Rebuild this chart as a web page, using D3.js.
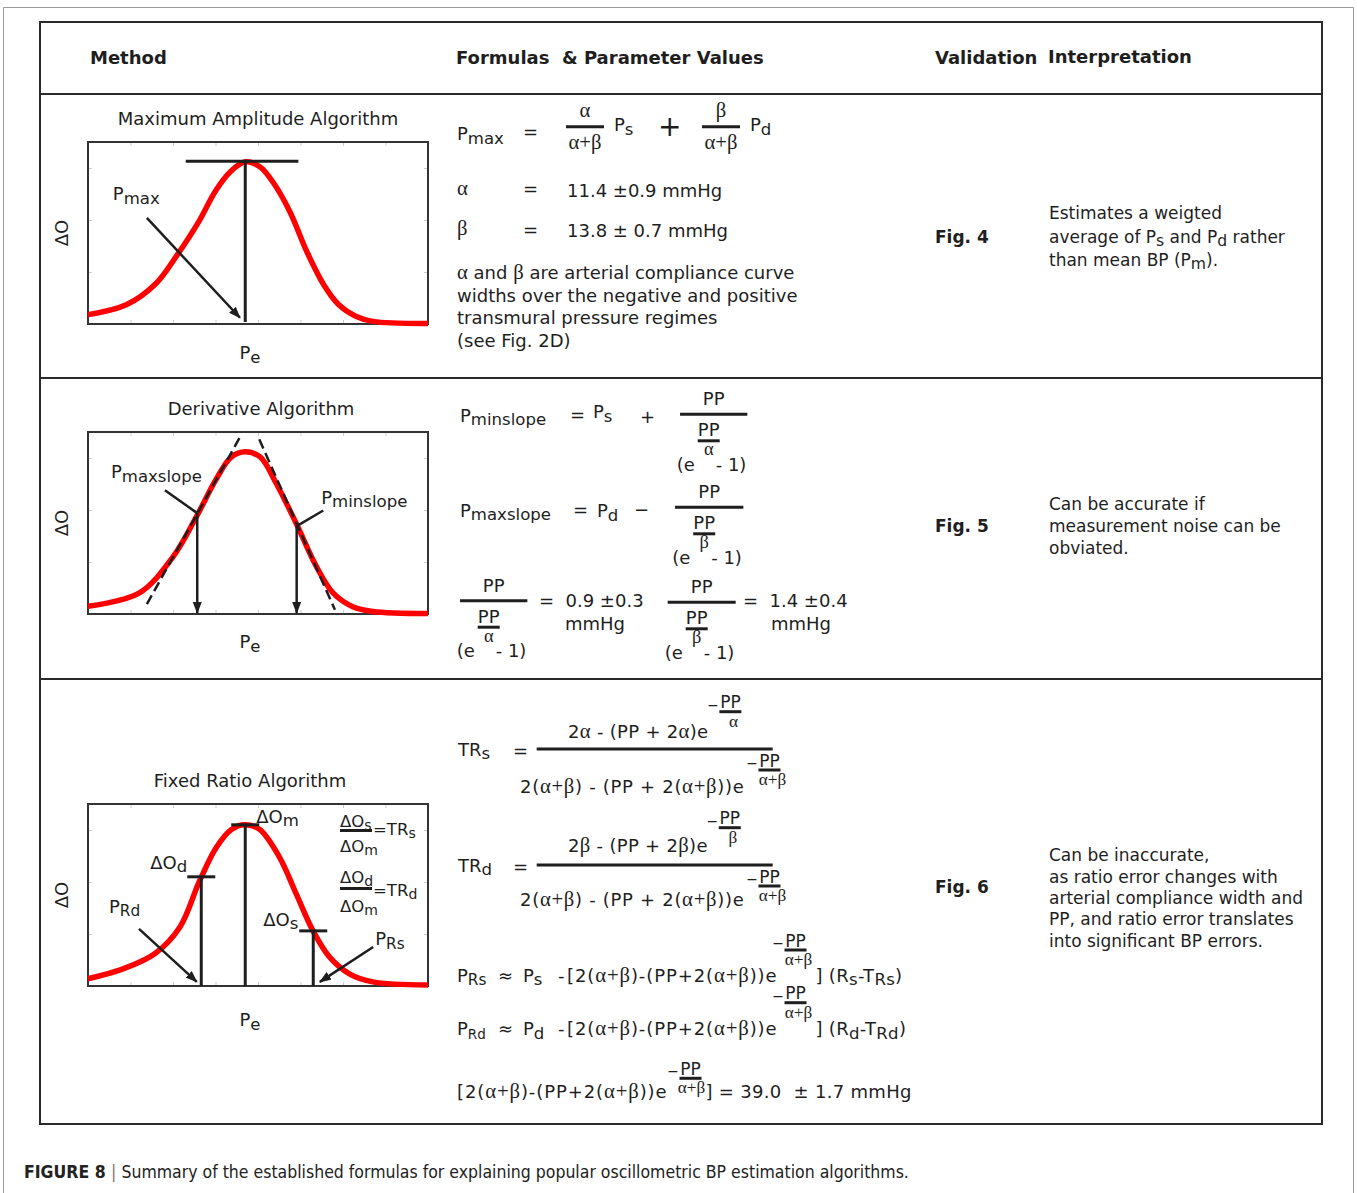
<!DOCTYPE html>
<html>
<head>
<meta charset="utf-8">
<script src="https://cdn.jsdelivr.net/npm/d3@7"></script>
<style>
  body { margin: 0; background: #fff; }
  svg { display: block; }
  text { white-space: pre; }
</style>
</head>
<body>
<svg id="fig" width="1357" height="1193"></svg>
<script>
// ---- Oscillogram data (cuff pressure Pe vs. oscillation amplitude ΔO) ----
const peTicks = [20, 40, 60, 80, 100, 120, 140];
const oscTicks = [1, 2, 3];

// Maximum amplitude panel
const peMaxAmp  = [0, 18, 32, 42, 52, 60, 67, 74, 81, 87, 95, 103, 111, 118, 126, 134, 160];
const oscMaxAmp = [0.18, 0.37, 0.78, 1.33, 1.96, 2.56, 2.93, 3.12, 3.02, 2.73, 2.16, 1.39, 0.75, 0.37, 0.15, 0.05, 0.01];
const pMaxPe = 74, pMaxOsc = 3.13;
const pMaxLevelSpan = [46, 99];
const pMaxArrow = [[27.7, 2.04], [71.5, 0.12]];

// Derivative panel
const peDeriv  = [0, 24, 40, 51, 60, 67.5, 74, 81, 88.6, 98, 107.5, 115.4, 124.6, 134, 160];
const oscDeriv = [0.15, 0.40, 1.10, 1.87, 2.57, 3.02, 3.12, 3.02, 2.51, 1.74, 0.91, 0.40, 0.14, 0.05, 0.01];
const slopePe  = [51.4, 98.2];
const slopeOsc = [1.94, 1.70];
const tangentLines = [[[27.7, 0.19], [71.5, 3.40]], [[80.6, 3.36], [116.2, 0.08]]];
const slopeLeaders = [[[36.2, 2.38], [51.4, 1.94]], [[110.7, 1.99], [99.0, 1.71]]];

// Fixed ratio panel
const peRatio  = [0, 16.5, 31.4, 43.2, 52.5, 60.3, 67.5, 73.8, 80.8, 90.2, 98, 105.9, 113.8, 123.2, 134, 160];
const oscRatio = [0.14, 0.33, 0.62, 1.13, 2.02, 2.66, 3.01, 3.10, 3.01, 2.47, 1.77, 1.06, 0.55, 0.23, 0.08, 0.02];
const ratioKeys = ["d", "m", "s"];
const ratioPe   = [53.3, 74.0, 106.0];
const ratioOsc  = [2.10, 3.10, 1.06];
const ratioArrows = [[[24.0, 1.10], [51.2, 0.08]], [[134.2, 0.75], [109.1, 0.08]]];

// ---- Table text ----
const headers = ["Method", "Formulas  & Parameter Values", "Validation", "Interpretation"];
const validation = ["Fig. 4", "Fig. 5", "Fig. 6"];
const interpretation = [
  ["Estimates a weigted", "average of P_{s} and P_{d} rather", "than mean BP (P_{m})."],
  ["Can be accurate if", "measurement noise can be", "obviated."],
  ["Can be inaccurate,", "as ratio error changes with", "arterial compliance width and",
   "PP, and ratio error translates", "into significant BP errors."]
];
const panelTitles = ["Maximum Amplitude Algorithm", "Derivative Algorithm", "Fixed Ratio Algorithm"];

const INK = "#1e1e1e";
const SANS = "'DejaVu Sans', Verdana, sans-serif";
const SERIF = "'Liberation Serif', 'Times New Roman', serif";

const svg = d3.select("#fig");
svg.append("rect").attr("width", 1357).attr("height", 1193).attr("fill", "#fff");

const defs = svg.append("defs");
defs.append("marker").attr("id", "head")
  .attr("viewBox", "0 -5 12 10").attr("refX", 11).attr("refY", 0)
  .attr("markerUnits", "userSpaceOnUse").attr("markerWidth", 12).attr("markerHeight", 10)
  .attr("orient", "auto")
  .append("path").attr("d", "M0,-4.5L12,0L0,4.5Z").attr("fill", INK);

// text with _{sub} markup; Greek runs set in a serif face
function rich(parent, x, y, str, o = {}) {
  const size = o.size || 18;
  const t = parent.append("text").attr("x", x).attr("y", y)
    .attr("font-family", SANS).attr("font-size", size).attr("fill", INK)
    .attr("text-anchor", o.anchor || "start")
    .attr("font-weight", o.weight || "normal");
  if (o.ls) t.attr("letter-spacing", o.ls);
  const subScale = o.subScale || 0.92, subDy = o.subDy ?? 0.2;
  let shift = 0;
  str.split(/(_\{[^}]*\})/).forEach(seg => {
    if (!seg) return;
    const isSub = seg.startsWith("_{");
    const body = isSub ? seg.slice(2, -1) : seg;
    const target = isSub ? size * subDy : 0;
    const fs = isSub ? size * subScale : size;
    body.split(/([αβ](?:\+[αβ])*)/).forEach(run => {
      if (!run) return;
      const greek = /^[αβ]/.test(run);
      const ts = t.append("tspan").text(run)
        .attr("font-size", greek ? fs * (o.greekScale || 1.15) : fs)
        .attr("font-family", greek ? SERIF : SANS);
      if (target !== shift) { ts.attr("dy", target - shift); shift = target; }
    });
  });
  return t;
}
function seg(parent, x1, y1, x2, y2, o = {}) {
  const l = parent.append("line").attr("x1", x1).attr("y1", y1).attr("x2", x2).attr("y2", y2)
    .attr("stroke", o.color || INK).attr("stroke-width", o.w || 2.5);
  if (o.dash) l.attr("stroke-dasharray", o.dash);
  if (o.arrow) l.attr("marker-end", "url(#head)");
  return l;
}
const endOf = t => t.node().getBBox().x + t.node().getBBox().width;

// ---- frames ----
svg.append("path").attr("d", "M3.5,1200V7.5H1353.5V1200")
  .attr("fill", "none").attr("stroke", "#9a9a9a").attr("stroke-width", 1);
svg.append("rect").attr("x", 40).attr("y", 22).attr("width", 1282).attr("height", 1102)
  .attr("fill", "none").attr("stroke", "#2a2a2a").attr("stroke-width", 2);
[94, 378, 679].forEach(yy => seg(svg, 40, yy, 1322, yy, { w: 2, color: "#2a2a2a" }));

// ---- header ----
const hx = [90, 456, 935, 1048], hy = [64, 64, 64, 63];
headers.forEach((h, i) => rich(svg, hx[i], hy[i], h, { size: 18, weight: "bold" }));

// ---- panels ----
function panel(top, pe, osc, title, titleX, titleY, peY) {
  const g = svg.append("g");
  const x = d3.scaleLinear().domain([0, 160]).range([88, 428]);
  const y = d3.scaleLinear().domain([0, 3.5]).range([top + 182, top]);
  const faint = s => {
    s.select(".domain").remove();
    s.selectAll("text").remove();
    s.selectAll("line").attr("stroke", "#cdcdcd").attr("stroke-width", 1);
  };
  g.append("g").attr("transform", `translate(0,${top + 182})`).call(d3.axisBottom(x).tickValues(peTicks).tickSize(-4)).call(faint);
  g.append("g").attr("transform", `translate(0,${top})`).call(d3.axisTop(x).tickValues(peTicks).tickSize(-4)).call(faint);
  g.append("g").attr("transform", "translate(88,0)").call(d3.axisLeft(y).tickValues(oscTicks).tickSize(-4)).call(faint);
  g.append("g").attr("transform", "translate(428,0)").call(d3.axisRight(y).tickValues(oscTicks).tickSize(-4)).call(faint);
  g.append("rect").attr("x", 88).attr("y", top).attr("width", 340).attr("height", 182)
    .attr("fill", "none").attr("stroke", "#333").attr("stroke-width", 2);
  g.append("path").datum(d3.zip(pe, osc))
    .attr("d", d3.line().x(d => x(d[0])).y(d => y(d[1])).curve(d3.curveCatmullRom.alpha(0.5)))
    .attr("fill", "none").attr("stroke", "#ff0000").attr("stroke-width", 5.5);
  rich(g, titleX, titleY, title, { anchor: "middle" });
  rich(g, 0, 0, "ΔO", { anchor: "middle" }).attr("transform", `translate(68,${top + 91}) rotate(-90)`);
  rich(g, 250, peY, "P_{e}", { anchor: "middle" });
  return { g, x, y };
}

// Maximum amplitude
{
  const { g, x, y } = panel(142, peMaxAmp, oscMaxAmp, panelTitles[0], 258, 125, 359);
  seg(g, x(pMaxLevelSpan[0]), y(pMaxOsc), x(pMaxLevelSpan[1]), y(pMaxOsc), { w: 3 });
  seg(g, x(pMaxPe), y(pMaxOsc), x(pMaxPe), y(0) - 2, { w: 3 });
  const [a, b] = pMaxArrow;
  seg(g, x(a[0]), y(a[1]), x(b[0]), y(b[1]), { w: 2.5, arrow: true });
  rich(g, x(a[0]) - 34, y(a[1]) - 18, "P_{max}");
}

// Derivative
{
  const { g, x, y } = panel(432, peDeriv, oscDeriv, panelTitles[1], 261, 415, 648);
  tangentLines.forEach(([a, b]) => seg(g, x(a[0]), y(a[1]), x(b[0]), y(b[1]), { w: 2.5, dash: "10,5" }));
  slopePe.forEach((p, i) => seg(g, x(p), y(slopeOsc[i]), x(p), y(0) - 1, { w: 2.5, arrow: true }));
  slopeLeaders.forEach(([a, b]) => seg(g, x(a[0]), y(a[1]), x(b[0]), y(b[1]), { w: 2.5 }));
  rich(g, x(slopeLeaders[0][0][0]) - 54, y(slopeLeaders[0][0][1]) - 12, "P_{maxslope}");
  rich(g, x(slopeLeaders[1][0][0]) - 2, y(slopeLeaders[1][0][1]) - 7, "P_{minslope}");
}

// Fixed ratio
{
  const { g, x, y } = panel(804, peRatio, oscRatio, panelTitles[2], 250, 787, 1026);
  ratioPe.forEach((p, i) => {
    seg(g, x(p), y(ratioOsc[i]), x(p), y(0), { w: 3 });
    seg(g, x(p) - 14, y(ratioOsc[i]), x(p) + 14, y(ratioOsc[i]), { w: 3 });
  });
  const px = k => x(ratioPe[ratioKeys.indexOf(k)]), py = k => y(ratioOsc[ratioKeys.indexOf(k)]);
  rich(g, px("m") + 11, py("m") - 2, "ΔO_{m}");
  rich(g, px("d") - 14, py("d") - 8, "ΔO_{d}", { anchor: "end" });
  rich(g, px("s") - 15, py("s") - 5, "ΔO_{s}", { anchor: "end" });
  ratioArrows.forEach(([a, b]) => seg(g, x(a[0]), y(a[1]), x(b[0]), y(b[1]), { w: 2.5, arrow: true }));
  rich(g, x(ratioArrows[0][0][0]) - 30, y(ratioArrows[0][0][1]) - 16, "P_{Rd}", { subScale: 0.85 });
  rich(g, x(ratioArrows[1][0][0]) + 2, y(ratioArrows[1][0][1]) - 2, "P_{Rs}", { subScale: 0.85 });
  // target ratio legend
  const ls = { size: 16.5, subScale: 0.85 };
  rich(g, 340, 827, "ΔO_{s}", ls);
  seg(g, 340, 830.5, 372, 830.5, { w: 3 });
  rich(g, 373, 835, "=TR_{s}", ls);
  rich(g, 340, 852, "ΔO_{m}", ls);
  rich(g, 340, 883, "ΔO_{d}", ls);
  seg(g, 340, 888.5, 372, 888.5, { w: 3 });
  rich(g, 373, 896, "=TR_{d}", ls);
  rich(g, 340, 912, "ΔO_{m}", ls);
}

// ---- formulas ----
const F = svg.append("g");
function fracBar(x1, x2, yy) { seg(F, x1, yy, x2, yy, { w: 3 }); }
// PP over (e^{PP/g} - 1)
function ppFrac(cx, barY, w, greek) {
  rich(F, cx, barY - 9, "PP", { anchor: "middle" });
  fracBar(cx - w / 2, cx + w / 2, barY);
  rich(F, cx - 5, barY + 22, "PP", { anchor: "middle" });
  fracBar(cx - 16, cx + 6, barY + 26.5);
  rich(F, cx - 5, barY + 41, greek, { anchor: "middle", size: 16 });
  rich(F, cx - 37, barY + 56.5, "(e");
  rich(F, cx + 2, barY + 56.5, "- 1)");
}
// raised exponent  -PP/den  after a base text ending at xEnd
function expo(xEnd, baseY, lift, dx, den, denDx = 3) {
  const barY = baseY - lift, cx = xEnd + dx;
  rich(F, cx - 11.5, barY - 2, "−", { size: 14, anchor: "end" });
  rich(F, cx, barY - 3.5, "PP", { anchor: "middle", size: 17 });
  fracBar(cx - 11, cx + 11, barY);
  rich(F, cx + denDx, barY + 15, den, { anchor: "middle", size: 15 });
}

// row 1
rich(F, 457, 140, "P_{max}");
rich(F, 523, 137.5, "=");
rich(F, 585, 117, "α", { anchor: "middle" });
fracBar(566, 604, 126.7);
rich(F, 585, 148.5, "α+β", { anchor: "middle" });
rich(F, 614, 131, "P_{s}");
rich(F, 658, 136, "+", { size: 28 });
rich(F, 721, 117, "β", { anchor: "middle" });
fracBar(702, 740, 126.7);
rich(F, 721, 148.5, "α+β", { anchor: "middle" });
rich(F, 750, 131, "P_{d}");
rich(F, 457, 195, "α");
rich(F, 523, 195, "=");
rich(F, 567, 196.7, "11.4 ±0.9 mmHg");
rich(F, 457, 235, "β");
rich(F, 523, 236, "=");
rich(F, 567, 236.7, "13.8 ± 0.7 mmHg");
["α and β are arterial compliance curve", "widths over the negative and positive",
 "transmural pressure regimes", "(see Fig. 2D)"].forEach((s, i) => rich(F, 457, 279.3 + i * 22.5, s));

// row 2
rich(F, 460, 421.7, "P_{minslope}");
rich(F, 570, 421, "=");
rich(F, 593, 418, "P_{s}");
rich(F, 640, 423, "+");
ppFrac(713.7, 414.3, 67.3, "α");
rich(F, 460, 516.7, "P_{maxslope}");
rich(F, 573, 516, "=");
rich(F, 597, 517, "P_{d}");
rich(F, 634, 516, "−");
ppFrac(709.2, 507.3, 68.3, "β");
ppFrac(493.7, 600.7, 67.3, "α");
rich(F, 539, 606.7, "=  0.9 ±0.3");
rich(F, 565, 630, "mmHg");
ppFrac(701.7, 602.3, 68, "β");
rich(F, 743, 606.7, "=  1.4 ±0.4");
rich(F, 771, 630, "mmHg");

// row 3
rich(F, 458, 755.7, "TR_{s}");
rich(F, 513, 756.5, "=");
let t = rich(F, 568, 738.3, "2α - (PP + 2α)e", { ls: 0.3 });
expo(endOf(t), 738.3, 26.6, 22, "α");
fracBar(536.7, 772.7, 749);
t = rich(F, 520, 793.3, "2(α+β) - (PP + 2(α+β))e", { ls: 0.7 });
expo(endOf(t), 793.3, 23.3, 25, "α+β");

rich(F, 458, 871.7, "TR_{d}");
rich(F, 513, 872.5, "=");
t = rich(F, 568, 851.7, "2β - (PP + 2β)e", { ls: 0.3 });
expo(endOf(t), 851.7, 24, 22, "β");
fracBar(536.7, 772.7, 865);
t = rich(F, 520, 906, "2(α+β) - (PP + 2(α+β))e", { ls: 0.7 });
expo(endOf(t), 906, 20, 25, "α+β");

[["s", 981.7, 31.7, "] (R_{s}-T_{Rs})"], ["d", 1035, 32.3, "] (R_{d}-T_{Rd})"]].forEach(([k, by, lift, tail]) => {
  rich(F, 457, by, "P_{R" + k + "}", { subScale: k === "d" ? 0.75 : 0.85 });
  rich(F, 498, by, "≈");
  rich(F, 523, by, "P_{" + k + "}");
  rich(F, 558, by, "-");
  const b = rich(F, 567, by, "[2(α+β)-(PP+2(α+β))e", { ls: 0.9 });
  const e = endOf(b);
  expo(e, by, lift, 18, "α+β");
  rich(F, e + 38, by, tail, { ls: 0.3 });
});
t = rich(F, 457, 1098.3, "[2(α+β)-(PP+2(α+β))e", { ls: 0.9 });
{
  const e = endOf(t);
  expo(e, 1098.3, 20, 23, "α+β", 1);
  rich(F, e + 38, 1098.3, "] = 39.0  ± 1.7 mmHg", { ls: 0.3 });
}

// ---- validation / interpretation ----
const vy = [242.7, 531.7, 892.7];
validation.forEach((v, i) => rich(svg, 935, vy[i], v, { size: 17, weight: "bold" }));
const iy = [[219.3, 243, 265.5], [510, 532.3, 554], [861, 882.5, 904, 925.3, 946.7]];
interpretation.forEach((lines, i) => lines.forEach((s, j) => rich(svg, 1049, iy[i][j], s, { size: 17 })));

// ---- caption ----
const cap = svg.append("text").attr("x", 24).attr("y", 1178)
  .attr("font-family", "'Liberation Sans Narrow', 'DejaVu Sans Condensed', sans-serif")
  .attr("font-size", 17.5).attr("fill", "#222");
cap.append("tspan").attr("font-weight", "bold").text("FIGURE 8 ");
cap.append("tspan").attr("fill", "#777").text("| ");
cap.append("tspan").text("Summary of the established formulas for explaining popular oscillometric BP estimation algorithms.");
</script>
</body>
</html>
